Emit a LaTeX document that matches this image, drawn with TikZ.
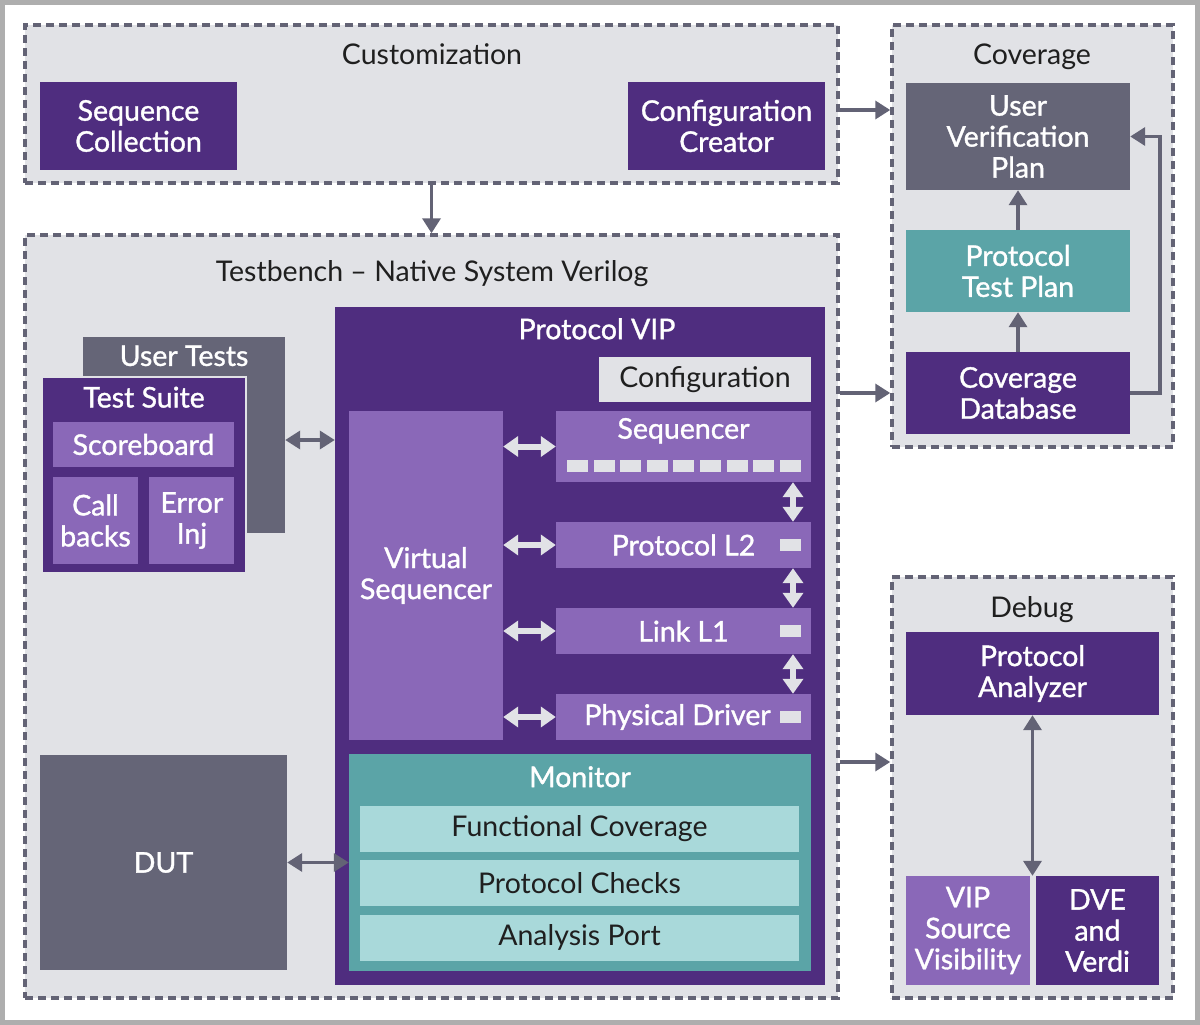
\documentclass[tikz,border=0pt]{standalone}
\usepackage{fontspec}
\setmainfont{Lato}
\newfontfamily\labelfont{Lato}[FakeBold=1.2]
\usetikzlibrary{positioning}
\usetikzlibrary{arrows.meta}
\definecolor{vipPurple}{HTML}{4F2D7F}
\definecolor{midPurple}{HTML}{8A68B8}
\definecolor{slateGray}{HTML}{656577}
\definecolor{tealBox}{HTML}{5BA4A7}
\definecolor{lightTeal}{HTML}{A9D9DA}
\definecolor{paleGray}{HTML}{E1E2E6}
\definecolor{lineGray}{HTML}{636375}
\definecolor{frameGray}{HTML}{AEAEAE}
\def\rowHeight{46pt}
\def\layerWidth{255pt}
\tikzset{% block diagram styles
  group/.style = {rectangle, fill=paleGray, draw=lineGray, line width=3.5pt,
    dash pattern=on 8pt off 5pt, inner sep=0},
  heading/.style = {inner sep=0, anchor=base, text=black!88, font=\fontsize{28.5}{32}\selectfont},
  block/.style = {rectangle, inner sep=0, align=center, text=white,
    font=\labelfont\fontsize{28.5}{31}\selectfont},
  block label/.style = {inner sep=0, text=white, font=\labelfont\fontsize{28.5}{31}\selectfont},
  dark block/.style = {block, fill=vipPurple},
  mid block/.style = {block, fill=midPurple},
  gray block/.style = {block, fill=slateGray},
  teal block/.style = {block, fill=tealBox},
  light block/.style = {block, fill=lightTeal, text=black!88, font=\fontsize{28.5}{31}\selectfont},
  pale block/.style = {block, fill=paleGray, text=black!88, font=\fontsize{28.5}{31}\selectfont},
  slot/.style = {rectangle, fill=paleGray, inner sep=0, minimum width=21pt, minimum height=12pt},
  link/.style = {draw=lineGray, line width=3.5pt, -{Triangle[width=18pt,length=15pt]}},
  both link/.style = {draw=lineGray, line width=3.5pt,
    {Triangle[width=18pt,length=15pt]}-{Triangle[width=18pt,length=15pt]}},
  fat link/.style = {draw=paleGray, line width=6pt,
    {Triangle[width=20pt,length=15pt]}-{Triangle[width=20pt,length=15pt]}},
}
\begin{document}
\begin{tikzpicture}[x=1pt, y=-1pt]
  \useasboundingbox (0,0) rectangle (1200,1025);
  \fill[frameGray] (0,0) rectangle (1200,1025);
  \fill[white] (5,5) rectangle (1195,1020);

  % customization
  \node[group, minimum width=813pt, minimum height=158pt] at (431.5,104) (Cust) {};
  \node[heading] at (432,65) (CustTitle) {Customization};
  \node[dark block, minimum width=197pt, minimum height=88pt] at (138.5,126) (SeqColl) {Sequence\\Collection};
  \node[dark block, minimum width=197pt, minimum height=88pt] at (726.5,126) (ConfCre) {Configuration\\Creator};

  % testbench
  \node[group, minimum width=813pt, minimum height=763pt] at (431.5,616.5) (TB) {};
  \node[heading] at (432,281) (TBTitle) {Testbench – Native System Verilog};

  \node[gray block, minimum width=202pt, minimum height=196pt,
    label={[block label, anchor=center, yshift=-19pt]north:User Tests}] at (184,435) (UT) {};
  \node[dark block, draw=paleGray, line width=1.5pt, minimum width=204pt, minimum height=196pt,
    label={[block label, anchor=center, yshift=-21pt]north:Test Suite}] at (144,475) (TS) {};
  \node[mid block, minimum width=181pt, minimum height=45pt] at (143.5,444.5) (Score) {Scoreboard};
  \node[mid block, minimum width=85pt, minimum height=87pt] at (95.5,520.5) (CallB) {Call\\backs};
  \node[mid block, minimum width=85pt, minimum height=87pt, right=11pt of CallB] (ErrInj) {Error\\Inj};

  \node[gray block, minimum width=247pt, minimum height=215pt] at (163.5,862.5) (DUT) {DUT};

  \node[dark block, minimum width=490pt, minimum height=678pt,
    label={[block label, anchor=center, xshift=17pt, yshift=-22pt]north:Protocol VIP}] at (580,646) (VIP) {};
  \node[pale block, minimum width=212pt, minimum height=45pt] at (705,379.5) (Config) {Configuration};
  \node[mid block, minimum width=154pt, minimum height=329pt] at (426,575.5) (VSeq) {Virtual\\Sequencer};

  \node[mid block, minimum width=\layerWidth, minimum height=71pt,
    label={[block label, anchor=center, yshift=-20pt]north:Sequencer}] at (683.5,446.5) (Seqr) {};
  \foreach \i in {0,...,8}
    \node[slot] at ({577.5+26.6*\i},465.5) (SeqrSlot\i) {};
  \node[mid block, minimum width=\layerWidth, minimum height=\rowHeight] at (683.5,545) (L2) {Protocol L2};
  \node[mid block, minimum width=\layerWidth, minimum height=\rowHeight] at (683.5,631) (L1) {Link L1};
  \node[mid block, minimum width=\layerWidth, minimum height=\rowHeight,
    label={[block label, anchor=center, xshift=-6pt]center:Physical Driver}] at (683.5,717) (PhyD) {};
  \node[slot, left=10pt of L2.east] (L2Slot) {};
  \node[slot, left=10pt of L1.east] (L1Slot) {};
  \node[slot, left=10pt of PhyD.east] (PhyDSlot) {};

  \draw[fat link] (VSeq.east |- Seqr.west) -- (Seqr.west);
  \draw[fat link] (VSeq.east |- L2.west) -- (L2.west);
  \draw[fat link] (VSeq.east |- L1.west) -- (L1.west);
  \draw[fat link] (VSeq.east |- PhyD.west) -- (PhyD.west);
  \draw[fat link] ([xshift=109.5pt]Seqr.south) -- ([xshift=109.5pt]L2.north);
  \draw[fat link] ([xshift=109.5pt]L2.south) -- ([xshift=109.5pt]L1.north);
  \draw[fat link] ([xshift=109.5pt]L1.south) -- ([xshift=109.5pt]PhyD.north);

  \node[teal block, minimum width=462pt, minimum height=217pt,
    label={[block label, anchor=center, yshift=-23pt]north:Monitor}] at (580,862.5) (Mon) {};
  \node[light block, minimum width=439pt, minimum height=\rowHeight] at (579.5,829) (FuncCov) {Functional Coverage};
  \node[light block, minimum width=439pt, minimum height=\rowHeight, below=8pt of FuncCov] (ProtChk) {Protocol Checks};
  \node[light block, minimum width=439pt, minimum height=\rowHeight, below=8pt of ProtChk] (AnaPort) {Analysis Port};

  % coverage
  \node[group, minimum width=281pt, minimum height=422pt] at (1032.5,236) (Cov) {};
  \node[heading] at (1032,65) (CovTitle) {Coverage};
  \node[gray block, minimum width=224pt, minimum height=107pt] at (1018,136.5) (UVP) {User\\Verification\\Plan};
  \node[teal block, minimum width=224pt, minimum height=82pt] at (1018,271) (PTP) {Protocol\\Test Plan};
  \node[dark block, minimum width=224pt, minimum height=82pt] at (1018,393) (CDB) {Coverage\\Database};

  % debug
  \node[group, minimum width=281pt, minimum height=421pt] at (1032.5,787.5) (Dbg) {};
  \node[heading] at (1032,617) (DbgTitle) {Debug};
  \node[dark block, minimum width=253pt, minimum height=83pt] at (1032.5,673.5) (PA) {Protocol\\Analyzer};
  \node[mid block, minimum width=124pt, minimum height=109pt] at (968,930.5) (VIPSV) {VIP\\Source\\Visibility};
  \node[dark block, minimum width=123pt, minimum height=109pt] at (1097.5,930.5) (DVE) {DVE\\and\\Verdi};

  % connectors
  \draw[link] (Cust.south) -- (TB.north);
  \coordinate (CustPort) at ([yshift=-6pt]Cust.east);
  \draw[link] (CustPort) -- (CustPort -| Cov.west);
  \draw[link] (CDB -| TB.east) -- (CDB -| Cov.west);
  \coordinate (DbgPort) at (TB.east |- 0,762);
  \draw[link] (DbgPort) -- (DbgPort -| Dbg.west);
  \draw[link] (PTP.north) -- (UVP.south);
  \draw[link] (CDB.north) -- (PTP.south);
  \draw[link] (CDB.east) -- ++(30,0) |- (UVP.east);
  \draw[both link] (PA.south) -- (PA.south |- VIPSV.north);

  \coordinate (UTPort) at ([yshift=-5pt]UT.east);
  \draw[both link] (UTPort) -- (UTPort -| VIP.west);
  \draw[both link] (DUT.east) -- (DUT.east -| Mon.west);
\end{tikzpicture}
\end{document}
